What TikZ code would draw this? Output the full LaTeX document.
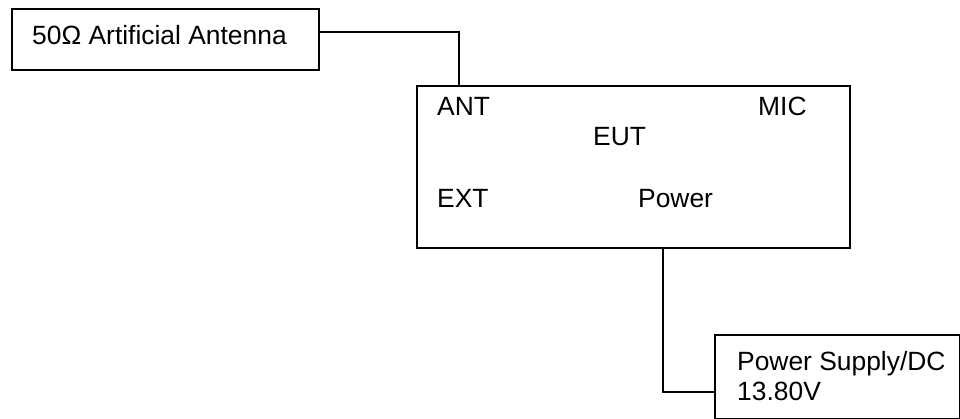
\documentclass[tikz,border=0pt]{standalone}
\usepackage{fontspec}
\setmainfont{Liberation Sans}
\begin{document}
\begin{tikzpicture}[x=1pt,y=-1pt,
  box/.style={draw, line width=1.6pt, inner sep=0pt, anchor=north west},
  lbl/.style={anchor=base west, inner sep=0pt, font=\fontsize{26.4}{30}\selectfont},
  wire/.style={line width=1.6pt}]
\useasboundingbox (0,0) rectangle (960,419);
\node[box, minimum width=307pt, minimum height=61pt] (ant) at (11,8) {};
\node[lbl] (antt) at (32,45) {50Ω Artificial Antenna};
\node[box, minimum width=433pt, minimum height=162pt] (eut) at (416,85) {};
\node[lbl] (p1) at (437,116) {ANT};
\node[lbl] (p2) at (758,116) {MIC};
\node[lbl] (p3) at (593,146) {EUT};
\node[lbl] (p4) at (437,208) {EXT};
\node[lbl] (p5) at (638,208) {Power};
\node[box, minimum width=245pt, minimum height=84pt] (psu) at (714,334) {};
\node[lbl] (s1) at (737,370) {Power Supply/DC};
\node[lbl] (s2) at (737,400) {13.80V};
\coordinate (antout) at (318,32);
\coordinate (eutin) at (459,85);
\coordinate (eutout) at (663,247);
\coordinate (psuin) at (714,392);
\draw[wire] (antout) -| (eutin);
\draw[wire] (eutout) |- (psuin);
\end{tikzpicture}
\end{document}
